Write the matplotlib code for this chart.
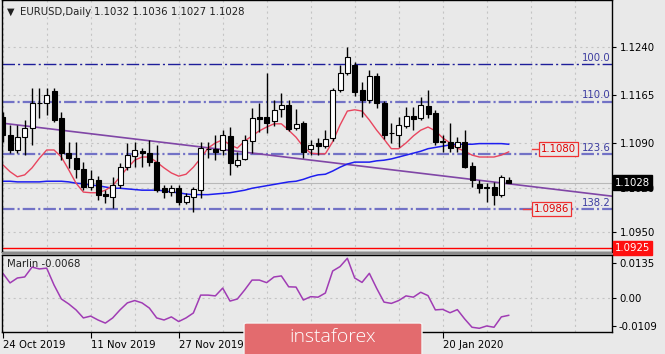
import matplotlib
matplotlib.use("Agg")
import matplotlib.pyplot as plt
from matplotlib.patches import Rectangle, FancyBboxPatch
import numpy as np

# EURUSD daily bars, 24 Oct 2019 .. 31 Jan 2020
opens = [1.1131, 1.1102, 1.1079, 1.1099, 1.1113, 1.1153, 1.1153, 1.1171, 1.1129, 1.1074,
         1.1066, 1.1049, 1.1021, 1.1032, 1.1010, 1.1005, 1.1024, 1.1052, 1.1070, 1.1077,
         1.1074, 1.1060, 1.1020, 1.1013, 1.1020, 1.0997, 1.1005, 1.1016, 1.1080, 1.1081,
         1.1079, 1.1101, 1.1056, 1.1065, 1.1093, 1.1131, 1.1131, 1.1124, 1.1143, 1.1149,
         1.1113, 1.1121, 1.1081, 1.1090, 1.1085, 1.1098, 1.1173, 1.1200, 1.1212, 1.1173,
         1.1157, 1.1195, 1.1153, 1.1106, 1.1102, 1.1117, 1.1132, 1.1129, 1.1148, 1.1137,
         1.1093, 1.1091, 1.1084, 1.1091, 1.1054, 1.1026, 1.1021, 1.1021, 1.1008, 1.1032]
highs = [1.1138, 1.1118, 1.1118, 1.1126, 1.1176, 1.1176, 1.1176, 1.1176, 1.1138, 1.1091,
         1.1091, 1.1060, 1.1048, 1.1038, 1.1017, 1.1037, 1.1058, 1.1090, 1.1091, 1.1082,
         1.1095, 1.1087, 1.1024, 1.1024, 1.1024, 1.1011, 1.1021, 1.1091, 1.1091, 1.1102,
         1.1110, 1.1115, 1.1076, 1.1102, 1.1145, 1.1153, 1.1200, 1.1157, 1.1168, 1.1157,
         1.1143, 1.1124, 1.1095, 1.1098, 1.1110, 1.1176, 1.1212, 1.1240, 1.1217, 1.1186,
         1.1204, 1.1200, 1.1156, 1.1121, 1.1131, 1.1146, 1.1146, 1.1162, 1.1173, 1.1142,
         1.1102, 1.1121, 1.1099, 1.1110, 1.1060, 1.1032, 1.1027, 1.1029, 1.1040, 1.1036]
lows = [1.1091, 1.1074, 1.1074, 1.1071, 1.1087, 1.1129, 1.1134, 1.1123, 1.1063, 1.1051,
        1.1035, 1.1017, 1.1017, 1.1001, 1.0996, 1.0988, 1.1019, 1.1048, 1.1052, 1.1052,
        1.1054, 1.1013, 1.1004, 1.1007, 1.0993, 1.0994, 1.0982, 1.1003, 1.1067, 1.1063,
        1.1071, 1.1040, 1.1052, 1.1063, 1.1074, 1.1107, 1.1106, 1.1117, 1.1131, 1.1109,
        1.1110, 1.1067, 1.1071, 1.1071, 1.1082, 1.1093, 1.1170, 1.1197, 1.1164, 1.1131,
        1.1153, 1.1145, 1.1097, 1.1090, 1.1083, 1.1113, 1.1110, 1.1126, 1.1129, 1.1087,
        1.1076, 1.1076, 1.1076, 1.1051, 1.1021, 1.1012, 1.0997, 1.0993, 1.1005, 1.1027]
closes = [1.1102, 1.1079, 1.1099, 1.1113, 1.1153, 1.1152, 1.1165, 1.1126, 1.1074, 1.1066,
          1.1049, 1.1021, 1.1034, 1.1008, 1.1007, 1.1024, 1.1052, 1.1071, 1.1079, 1.1074,
          1.1060, 1.1017, 1.1013, 1.1020, 1.0997, 1.1007, 1.1018, 1.1082, 1.1081, 1.1076,
          1.1102, 1.1058, 1.1063, 1.1095, 1.1129, 1.1128, 1.1121, 1.1142, 1.1149, 1.1112,
          1.1120, 1.1076, 1.1087, 1.1085, 1.1096, 1.1173, 1.1200, 1.1225, 1.1170, 1.1157,
          1.1195, 1.1153, 1.1102, 1.1105, 1.1118, 1.1132, 1.1127, 1.1149, 1.1135, 1.1091,
          1.1092, 1.1082, 1.1091, 1.1052, 1.1032, 1.1020, 1.1020, 1.1008, 1.1036, 1.1028]

# fast (red) and slow (blue) moving averages
ma_fast = [1.1056, 1.1045, 1.1037, 1.1040, 1.1051, 1.1066, 1.1079, 1.1079, 1.1068, 1.1048,
           1.1027, 1.1013, 1.1012, 1.1012, 1.1016, 1.1023, 1.1037, 1.1051, 1.1063, 1.1068,
           1.1068, 1.1060, 1.1051, 1.1043, 1.1038, 1.1041, 1.1052, 1.1066, 1.1082, 1.1090,
           1.1095, 1.1087, 1.1082, 1.1093, 1.1101, 1.1109, 1.1115, 1.1120, 1.1120, 1.1110,
           1.1099, 1.1084, 1.1074, 1.1073, 1.1073, 1.1092, 1.1118, 1.1140, 1.1142, 1.1140,
           1.1126, 1.1110, 1.1096, 1.1081, 1.1081, 1.1090, 1.1101, 1.1110, 1.1115, 1.1109,
           1.1098, 1.1090, 1.1082, 1.1077, 1.1071, 1.1068, 1.1068, 1.1068, 1.1071, 1.1076]
ma_slow = [1.1030, 1.1030, 1.1029, 1.1029, 1.1029, 1.1029, 1.1030, 1.1030, 1.1030, 1.1029,
           1.1027, 1.1026, 1.1024, 1.1023, 1.1021, 1.1019, 1.1019, 1.1018, 1.1017, 1.1016,
           1.1016, 1.1016, 1.1015, 1.1013, 1.1012, 1.1010, 1.1009, 1.1009, 1.1009, 1.1010,
           1.1011, 1.1012, 1.1014, 1.1016, 1.1019, 1.1021, 1.1023, 1.1025, 1.1027, 1.1029,
           1.1030, 1.1033, 1.1037, 1.1040, 1.1041, 1.1046, 1.1052, 1.1057, 1.1060, 1.1060,
           1.1060, 1.1062, 1.1063, 1.1065, 1.1068, 1.1071, 1.1074, 1.1077, 1.1081, 1.1083,
           1.1085, 1.1087, 1.1088, 1.1088, 1.1088, 1.1089, 1.1089, 1.1089, 1.1089, 1.1088]

# Marlin oscillator
marlin = [0.0095, 0.0057, 0.0076, 0.0080, 0.0118, 0.0111, 0.0114, 0.0049, -0.0005, -0.0024,
          -0.0047, -0.0078, -0.0071, -0.0086, -0.0098, -0.0078, -0.0047, -0.0020, -0.0011, -0.0020,
          -0.0040, -0.0078, -0.0086, -0.0074, -0.0092, -0.0078, -0.0059, 0.0010, 0.0010, 0.0007,
          0.0037, -0.0013, -0.0005, 0.0030, 0.0068, 0.0068, 0.0058, 0.0080, 0.0084, 0.0042,
          0.0041, -0.0009, 0.0004, 0.0002, 0.0018, 0.0103, 0.0120, 0.0152, 0.0076, 0.0059,
          0.0094, 0.0036, -0.0017, -0.0022, -0.0011, 0.0007, 0.0002, 0.0021, 0.0008, -0.0047,
          -0.0045, -0.0058, -0.0046, -0.0082, -0.0114, -0.0118, -0.0109, -0.0114, -0.0074, -0.0068]

fib_levels = [1.1213, 1.1155, 1.1073, 1.0986]
fib_names = ["100.0", "110.0", "123.6", "138.2"]
trend_bars = [0, 69]
trend_prices = [1.1121, 1.1026]
support = 1.0925
label_prices = [1.1080, 1.0986]
price_ticks = [1.1240, 1.1165, 1.1090, 1.1020, 1.0950]
osc_ticks = [0.0135, 0.0, -0.0109]
date_idx = [0, 12, 24, 60]
date_labels = ["24 Oct 2019", "11 Nov 2019", "27 Nov 2019", "20 Jan 2020"]

BG = "#E9E9E9"
FS = 7.3
plt.rcParams["font.family"] = "DejaVu Sans"
plt.rcParams["lines.scale_dashes"] = False

W, H = 665, 354
fig = plt.figure(figsize=(W / 100, H / 100), dpi=100, facecolor=BG)

ax = fig.add_axes([2 / W, 1 - 252 / H, 610 / W, 252 / H])
ax2 = fig.add_axes([2 / W, 1 - 332 / H, 610 / W, 77 / H])
for a in (ax, ax2):
    a.set_facecolor(BG)
    a.set_xlim(-0.095, 83.09)
    for s in a.spines.values():
        s.set_color("black")
        s.set_linewidth(1)

n = len(closes)
idx = np.arange(n)
ax.set_ylim(1.09191, 1.13141)
ax2.set_ylim(-0.01323, 0.01647)

# grid
grid_x = np.arange(0, 84, 6)
for a in (ax, ax2):
    for gx in grid_x:
        a.axvline(gx, color="#C4C4C4", lw=0.8, ls=(0, (1.5, 2.5)), zorder=0)
for p in price_ticks:
    ax.axhline(p, color="#C4C4C4", lw=0.8, ls=(0, (1.5, 2.5)), zorder=0)
ax2.axhline(0, color="#C4C4C4", lw=0.8, ls=(0, (1.5, 2.5)), zorder=0)

# current price line
ax.axhline(closes[-1], color="#B8B8B8", lw=0.8, zorder=1)

# fibo levels
dash = (0, (9, 2.2, 1.5, 2.2))
for k, (lv, nm) in enumerate(zip(fib_levels, fib_names)):
    if k == 0:
        ax.axhline(lv, color="#1E1E9A", lw=1.0, ls=dash, zorder=1)
    else:
        ax.axhline(lv, color="#7272C6", lw=1.6, ls=dash, zorder=1)
    ax.text(0.998, lv + 0.00018, nm, transform=ax.get_yaxis_transform(), ha="right",
            va="bottom", fontsize=FS, color="#3C3CA0")

# support line
ax.axhline(support, color="#FF0000", lw=1.0, zorder=2)

# trend line
slope = (trend_prices[1] - trend_prices[0]) / (trend_bars[1] - trend_bars[0])
tx = np.array([-0.095, 83.09])
ax.plot(tx, trend_prices[0] + slope * (tx - trend_bars[0]), color="#8046A6", lw=1.2, zorder=2)

# moving averages
ax.plot(idx, ma_slow, color="#1E1EF0", lw=1.1, zorder=2)
ax.plot(idx, ma_fast, color="#E8455E", lw=1.0, zorder=2)

# candles
ax.vlines(idx, lows, highs, color="black", lw=1.0, zorder=3)
for i in range(n):
    o, c = opens[i], closes[i]
    bottom = min(o, c)
    hgt = max(abs(c - o), 0.00003)
    fc = "white" if c >= o else "black"
    ax.add_patch(Rectangle((i - 0.34, bottom), 0.68, hgt, facecolor=fc,
                           edgecolor="black", lw=0.8, zorder=4))

# right price labels with red boxes
for lp, x0, x1 in zip(label_prices, [72.2, 70.9], [73.3, 72.3]):
    ax.plot([x0, x1], [lp, lp], color="#F04040", lw=1.0, zorder=5)
    ax.text(x1 + 0.12, lp, "%.4f" % lp, fontsize=FS, color="#E00000", ha="left", va="center",
            zorder=6, bbox=dict(boxstyle="square,pad=0.2", fc=BG, ec="#F03030", lw=0.9))

# price axis
ax.yaxis.tick_right()
ax.set_yticks(price_ticks)
ax.set_yticklabels(["%.4f" % p for p in price_ticks])
ax.tick_params(axis="y", length=3, width=0.8, pad=3, labelsize=FS, colors="black")
ax.set_xticks([])
ax.text(1.0 + 3 / 610, closes[-1], "%.4f" % closes[-1], transform=ax.get_yaxis_transform(),
        ha="left", va="center", fontsize=FS, color="white", zorder=10, clip_on=False,
        bbox=dict(boxstyle="square,pad=0.2", fc="black", ec="black"))
ax.text(1.0 + 3 / 610, support, "%.4f" % support, transform=ax.get_yaxis_transform(),
        ha="left", va="center", fontsize=FS, color="white", zorder=10, clip_on=False,
        bbox=dict(boxstyle="square,pad=0.2", fc="#FF1010", ec="#FF1010"))

# oscillator
ax2.plot(idx, marlin, color="#A03CB4", lw=1.1)
ax2.yaxis.tick_right()
ax2.set_yticks(osc_ticks)
ax2.set_yticklabels(["0.0135", "0.00", "-0.0109"])
ax2.tick_params(axis="y", length=3, width=0.8, pad=2, labelsize=FS)
ax2.set_xticks(date_idx)
ax2.set_xticklabels(date_labels, ha="left")
ax2.tick_params(axis="x", length=4, width=0.8, pad=1.5, labelsize=FS)
ax2.text(0.008, 0.88, "Marlin -0.0068", transform=ax2.transAxes, fontsize=FS,
         ha="left", va="center", color="#202020")

# separator between panels
fig.patches.append(Rectangle((2 / W, 1 - 255 / H), 610 / W, 3 / H, transform=fig.transFigure,
                             facecolor="#8C8C8C", edgecolor="none", zorder=5))

# title
fig.text(7 / W, 1 - 12 / H, "\u25BC", fontsize=7, color="#202020", va="center")
fig.text(20 / W, 1 - 12 / H, "EURUSD,Daily", fontsize=FS, color="#202020", va="center")
fig.text(94 / W, 1 - 12 / H, "1.1032 1.1036 1.1027 1.1028", fontsize=FS, color="#202020",
         va="center")

# logo
logo = FancyBboxPatch((244 / W, 1 - 360 / H), 178 / W, 37 / H, transform=fig.transFigure,
                      boxstyle="round,pad=0,rounding_size=0.004", facecolor="#E36B6E",
                      edgecolor="#F4F4F4", lw=1.0, zorder=20)
fig.patches.append(logo)
fig.text(333 / W, 1 - 337 / H, "instaforex", fontsize=14, color="white", ha="center",
         va="center", family="Open Sans", weight="light", zorder=21)

fig.savefig("out.png", dpi=100, facecolor=BG)
